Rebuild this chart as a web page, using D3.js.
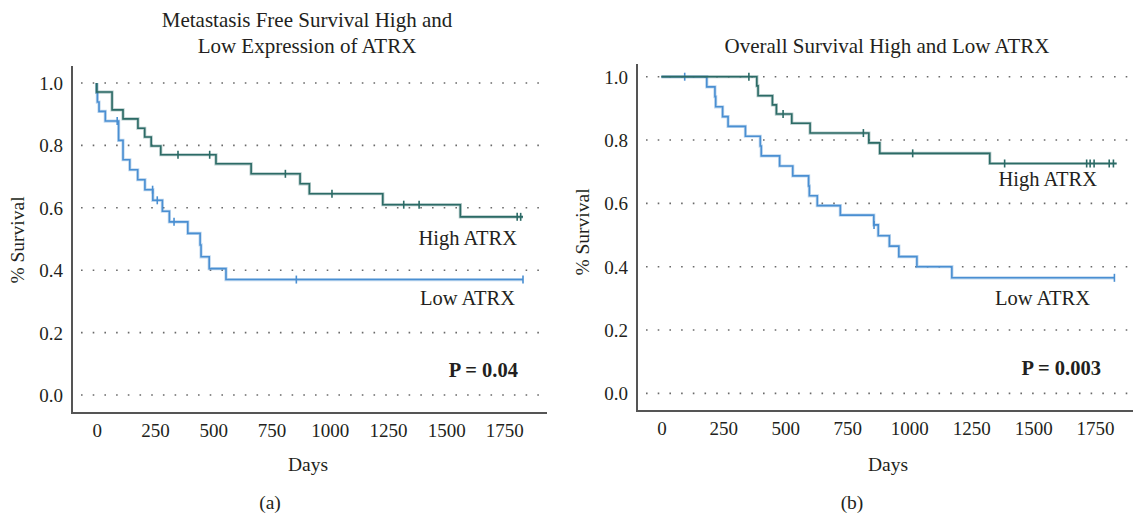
<!DOCTYPE html>
<html>
<head>
<meta charset="utf-8">
<script src="https://cdn.jsdelivr.net/npm/d3@7/dist/d3.min.js"></script>
<style>
  html, body { margin: 0; padding: 0; background: #fff; }
  svg { display: block; }
  text { font-family: "Liberation Serif", "DejaVu Serif", serif; fill: #231f20; }
</style>
</head>
<body>
<svg id="chart" width="1133" height="515"></svg>
<script>
// ---------------- DATA ----------------
const xTickValues = [0, 250, 500, 750, 1000, 1250, 1500, 1750];
const yTickValues = [0.0, 0.2, 0.4, 0.6, 0.8, 1.0];

// Panel (a): Metastasis free survival
const aTitleLines = ["Metastasis Free Survival High and", "Low Expression of ATRX"];
const aHighDays = [0, 0, 66, 113, 177, 206, 234, 275, 512, 663, 873, 913, 1228, 1561, 1830];
const aHighSurv = [1.0, 0.971, 0.914, 0.885, 0.855, 0.827, 0.798, 0.770, 0.741, 0.709, 0.677, 0.645, 0.610, 0.571, 0.571];
const aHighCensorDays = [349, 485, 810, 1010, 1318, 1384, 1805, 1820];
const aHighCensorSurv = [0.770, 0.770, 0.709, 0.645, 0.610, 0.610, 0.571, 0.571];
const aLowDays = [0, 0, 3, 10, 37, 94, 113, 142, 176, 207, 241, 282, 312, 391, 444, 448, 483, 555, 1830];
const aLowSurv = [1.0, 0.970, 0.939, 0.909, 0.878, 0.816, 0.754, 0.722, 0.690, 0.658, 0.624, 0.589, 0.555, 0.518, 0.481, 0.443, 0.405, 0.370, 0.370];
const aLowCensorDays = [88, 240, 260, 332, 857, 1830];
const aLowCensorSurv = [0.878, 0.658, 0.624, 0.555, 0.370, 0.370];
const aPValue = "P = 0.04";

// Panel (b): Overall survival
const bTitleLines = ["Overall Survival High and Low ATRX"];
const bHighDays = [0, 385, 390, 448, 464, 526, 600, 837, 881, 1325, 1837];
const bHighSurv = [1.0, 0.971, 0.940, 0.911, 0.882, 0.853, 0.822, 0.791, 0.758, 0.726, 0.726];
const bHighCensorDays = [353, 491, 815, 1014, 1385, 1716, 1730, 1746, 1807, 1824];
const bHighCensorSurv = [1.0, 0.882, 0.822, 0.758, 0.726, 0.726, 0.726, 0.726, 0.726, 0.726];
const bLowDays = [0, 183, 216, 219, 247, 269, 339, 399, 403, 477, 530, 594, 597, 629, 722, 857, 875, 920, 958, 1031, 1172, 1828];
const bLowSurv = [1.0, 0.968, 0.937, 0.905, 0.874, 0.843, 0.812, 0.781, 0.750, 0.718, 0.687, 0.655, 0.624, 0.593, 0.563, 0.532, 0.498, 0.465, 0.432, 0.400, 0.365, 0.365];
const bLowCensorDays = [94, 858, 1828];
const bLowCensorSurv = [1.0, 0.532, 0.365];
const bPValue = "P = 0.003";

const seriesNames = ["High ATRX", "Low ATRX"];
const xAxisLabel = "Days";
const yAxisLabel = "% Survival";
const panelLetters = ["(a)", "(b)"];

// ---------------- LAYOUT / STYLE ----------------
const highColor = "#2c6b66";
const lowColor = "#4a8fd2";

const panels = [
  {
    title: aTitleLines, titleX: 307, titleY: [27, 53],
    high: { days: aHighDays, surv: aHighSurv, cd: aHighCensorDays, cs: aHighCensorSurv },
    low: { days: aLowDays, surv: aLowSurv, cd: aLowCensorDays, cs: aLowCensorSurv },
    p: aPValue,
    xDomain: [-106, 1933], xRange: [72, 547],
    yDomain: [0, 1], yRange: [395, 83],
    axisTop: 66, axisBottom: 413,
    highLabel: [517, 245], lowLabel: [515, 305], pLabel: [518, 377],
    daysX: 308, letterX: 270, survX: 24, survY: 240
  },
  {
    title: bTitleLines, titleX: 887, titleY: [53],
    high: { days: bHighDays, surv: bHighSurv, cd: bHighCensorDays, cs: bHighCensorSurv },
    low: { days: bLowDays, surv: bLowSurv, cd: bLowCensorDays, cs: bLowCensorSurv },
    p: bPValue,
    xDomain: [-98.5, 1903], xRange: [637, 1133],
    yDomain: [0, 1], yRange: [393.4, 76.7],
    axisTop: 64, axisBottom: 411,
    highLabel: [1097, 186], lowLabel: [1090, 305], pLabel: [1101, 375],
    daysX: 888, letterX: 852, survX: 589, survY: 232
  }
];

const svg = d3.select("#chart");

panels.forEach((P, pi) => {
  const g = svg.append("g");
  const x = d3.scaleLinear().domain(P.xDomain).range(P.xRange);
  const y = d3.scaleLinear().domain(P.yDomain).range(P.yRange);
  const left = P.xRange[0], right = P.xRange[1];

  // dotted gridlines
  g.append("g").selectAll("line").data(yTickValues).join("line")
    .attr("x1", left + 9).attr("x2", right - 1)
    .attr("y1", d => y(d)).attr("y2", d => y(d))
    .attr("stroke", "#6a6a6a").attr("stroke-width", 1.6)
    .attr("stroke-dasharray", "1.6 10.1");

  // y axis labels
  const yAxis = d3.axisLeft(y).tickValues(yTickValues).tickFormat(d3.format(".1f"))
    .tickSize(0).tickPadding(9);
  const yg = g.append("g").attr("transform", `translate(${left},0)`).call(yAxis);
  yg.select(".domain").remove();
  yg.selectAll("text").style("font-size", "19px").attr("dy", "0.34em");

  // x axis labels
  const xAxis = d3.axisBottom(x).tickValues(xTickValues).tickFormat(d3.format("d"))
    .tickSize(0).tickPadding(11);
  const xg = g.append("g").attr("transform", `translate(0,${P.axisBottom})`).call(xAxis);
  xg.select(".domain").remove();
  xg.selectAll("text").style("font-size", "19px");

  // axis lines
  g.append("path")
    .attr("d", `M${left},${P.axisTop}V${P.axisBottom}H${right}`)
    .attr("fill", "none").attr("stroke", "#555").attr("stroke-width", 2);

  // survival curves
  const line = d3.line().x(d => x(d[0])).y(d => y(d[1])).curve(d3.curveStepAfter);
  [["low", lowColor], ["high", highColor]].forEach(([key, col]) => {
    const S = P[key];
    const pts = S.days.map((d, i) => [d, S.surv[i]]);
    g.append("path").datum(pts).attr("d", line)
      .attr("fill", "none").attr("stroke", col).attr("stroke-opacity", 0.35)
      .attr("stroke-width", 3.2);
    g.append("path").datum(pts).attr("d", line)
      .attr("fill", "none").attr("stroke", col).attr("stroke-width", 1.6);
    const cens = S.cd.map((d, i) => [d, S.cs[i]]);
    g.append("g").selectAll("line").data(cens).join("line")
      .attr("x1", d => x(d[0])).attr("x2", d => x(d[0]))
      .attr("y1", d => y(d[1]) - 4).attr("y2", d => y(d[1]) + 4)
      .attr("stroke", col).attr("stroke-width", 1.6);
  });

  // titles
  P.title.forEach((t, i) => {
    g.append("text").attr("x", P.titleX).attr("y", P.titleY[i])
      .attr("text-anchor", "middle").style("font-size", "21px").text(t);
  });

  // series labels
  g.append("text").attr("x", P.highLabel[0]).attr("y", P.highLabel[1])
    .attr("text-anchor", "end").style("font-size", "20.5px").text(seriesNames[0]);
  g.append("text").attr("x", P.lowLabel[0]).attr("y", P.lowLabel[1])
    .attr("text-anchor", "end").style("font-size", "20.5px").text(seriesNames[1]);
  g.append("text").attr("x", P.pLabel[0]).attr("y", P.pLabel[1])
    .attr("text-anchor", "end").style("font-size", "20.5px").style("font-weight", "bold").text(P.p);

  // axis titles
  g.append("text").attr("x", P.daysX).attr("y", 471)
    .attr("text-anchor", "middle").style("font-size", "19.5px").text(xAxisLabel);
  g.append("text").attr("transform", `translate(${P.survX},${P.survY}) rotate(-90)`)
    .attr("text-anchor", "middle").style("font-size", "19.5px").text(yAxisLabel);

  // panel letter
  g.append("text").attr("x", P.letterX).attr("y", 509)
    .attr("text-anchor", "middle").style("font-size", "19.5px").text(panelLetters[pi]);
});
</script>
</body>
</html>
